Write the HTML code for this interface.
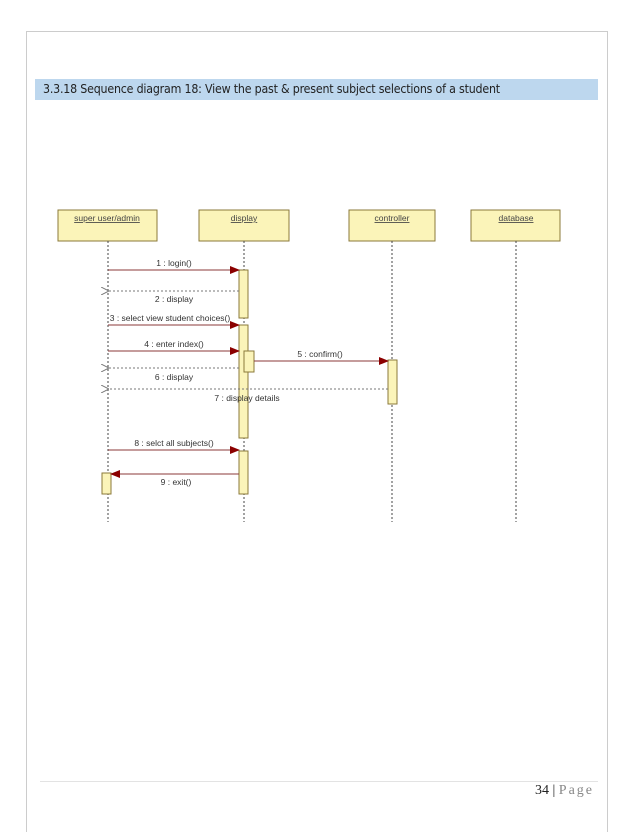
<!DOCTYPE html>
<html><head><style>
body{margin:0;width:638px;height:826px;background:#fff;position:relative;overflow:hidden;font-family:"Liberation Sans",sans-serif}
</style></head><body>
<div style="position:absolute;left:26px;top:31px;width:580px;height:800px;border:1px solid #ccc;border-bottom:none"></div>
<div style="position:absolute;left:35px;top:79px;width:563px;height:21px;background:#bdd7ee"></div>
<div style="position:absolute;left:43px;top:82px;font-size:12.3px;color:#222;font-family:'DejaVu Sans Condensed','Liberation Sans',sans-serif;letter-spacing:-0.2px">3.3.18 Sequence diagram 18: View the past &amp; present subject selections of a student</div>
<div style="position:absolute;left:40px;top:781px;width:558px;height:1px;background:#e3e3e3"></div>
<div style="position:absolute;right:44px;top:783px;font-family:'Liberation Serif',serif;font-size:14px;color:#222">34 | <span style="color:#888;letter-spacing:2px">Page</span></div>
<svg width="638" height="826" style="position:absolute;left:0;top:0" font-family="Liberation Sans, sans-serif" font-size="8.5" fill="#333">
<defs>
<marker id="f" markerWidth="10" markerHeight="8" refX="9" refY="4" orient="auto" markerUnits="userSpaceOnUse"><path d="M0,0L10,4L0,8z" fill="#8b0000"/></marker>
<marker id="o" markerWidth="8" markerHeight="8" refX="0" refY="4" orient="auto" markerUnits="userSpaceOnUse"><path d="M8,0L0,4L8,8" fill="none" stroke="#777"/></marker>
</defs>
<g fill="#fbf4b9" stroke="#8b7a3a">
<rect x="58" y="210" width="99" height="31"/><rect x="199" y="210" width="90" height="31"/>
<rect x="349" y="210" width="86" height="31"/><rect x="471" y="210" width="89" height="31"/>
</g>
<g text-anchor="middle" text-decoration="underline" fill="#444">
<text x="107" y="221">super user/admin</text><text x="244" y="221">display</text>
<text x="392" y="221">controller</text><text x="516" y="221">database</text>
</g>
<g stroke="#444" stroke-dasharray="2,2">
<line x1="108" y1="241" x2="108" y2="522"/><line x1="244" y1="241" x2="244" y2="522"/>
<line x1="392" y1="241" x2="392" y2="522"/><line x1="516" y1="241" x2="516" y2="522"/>
</g>
<g fill="#fbf4b9" stroke="#8b7a3a">
<rect x="239" y="270" width="9" height="48"/><rect x="239" y="325" width="9" height="113"/>
<rect x="244" y="351" width="10" height="21"/><rect x="388" y="360" width="9" height="44"/>
<rect x="239" y="451" width="9" height="43"/><rect x="102" y="473" width="9" height="21"/>
</g>
<g stroke="#8b3a3a" fill="none">
<line x1="108" y1="270" x2="239" y2="270" marker-end="url(#f)"/>
<line x1="108" y1="325" x2="239" y2="325" marker-end="url(#f)"/>
<line x1="108" y1="351" x2="239" y2="351" marker-end="url(#f)"/>
<line x1="254" y1="361" x2="388" y2="361" marker-end="url(#f)"/>
<line x1="108" y1="450" x2="239" y2="450" marker-end="url(#f)"/>
<line x1="239" y1="474" x2="111" y2="474" marker-end="url(#f)"/>
</g>
<g stroke="#777" fill="none" stroke-dasharray="2,2">
<line x1="239" y1="291" x2="109" y2="291" marker-end="url(#o)"/>
<line x1="239" y1="368" x2="109" y2="368" marker-end="url(#o)"/>
<line x1="388" y1="389" x2="109" y2="389" marker-end="url(#o)"/>
</g>
<g text-anchor="middle">
<text x="174" y="266">1 : login()</text>
<text x="174" y="302">2 : display</text>
<text x="170" y="321">3 : select view student choices()</text>
<text x="174" y="347">4 : enter index()</text>
<text x="320" y="357">5 : confirm()</text>
<text x="174" y="380">6 : display</text>
<text x="247" y="401">7 : display details</text>
<text x="174" y="446">8 : selct all subjects()</text>
<text x="176" y="485">9 : exit()</text>
</g>
</svg>
</body></html>
